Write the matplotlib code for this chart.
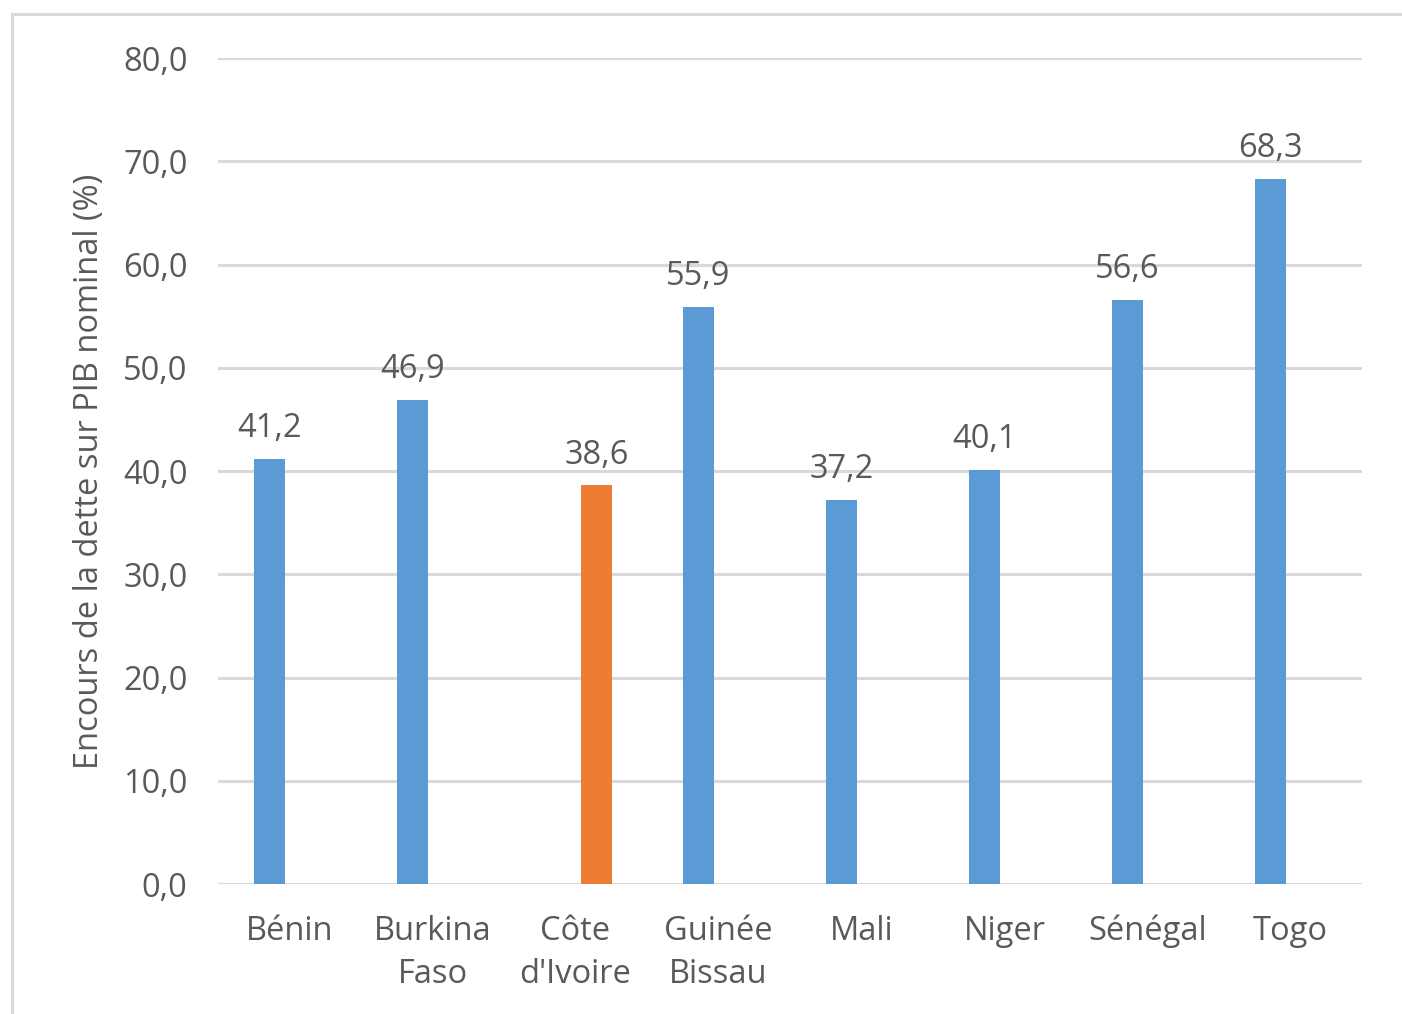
import numpy as np
import matplotlib.pyplot as plt
from matplotlib.patches import Rectangle

# Encours de la dette / PIB nominal, pays de l'UEMOA
pays = ['Bénin', 'Burkina\nFaso', 'Côte\nd\'Ivoire', 'Guinée\nBissau',
        'Mali', 'Niger', 'Sénégal', 'Togo']
dette_pib = [41.2, 46.9, 38.6, 55.9, 37.2, 40.1, 56.6, 68.3]
pays_mis_en_avant = 'Côte\nd\'Ivoire'
yticks = [0, 10, 20, 30, 40, 50, 60, 70, 80]

bleu = '#5b9bd5'
orange = '#ed7d31'
gris_texte = '#595959'
gris_grille = '#d9d9d9'
taille = 23.5

plt.rcParams['font.family'] = ['Open Sans', 'DejaVu Sans']

fig = plt.figure(figsize=(14.02, 10.14), dpi=100)
ax = fig.add_axes([0.1555, 0.1282, 0.816, 0.8146])

x = np.arange(len(pays))
vals = np.array(dette_pib)
autre = np.array([p == pays_mis_en_avant for p in pays])

# deux séries "groupées" comme dans Excel : bleu à gauche, orange à droite
serie1 = np.where(autre, np.nan, vals)
serie2 = np.where(autre, vals, np.nan)
largeur = 0.215
ax.bar(x - 0.14, serie1, largeur, color=bleu, zorder=3)
ax.bar(x + 0.147, serie2, largeur, color=orange, zorder=3)

for xi, v, a in zip(x, vals, autre):
    xpos = xi + 0.147 if a else xi - 0.14
    ax.annotate(f'{v:.1f}'.replace('.', ','), (xpos, v), xytext=(0, 10),
                textcoords='offset points', ha='center', va='bottom',
                fontsize=taille, color=gris_texte)

ax.set_xlim(-0.5, len(pays) - 0.5)
ax.set_ylim(0, 80)
ax.set_yticks(yticks)
ax.set_yticklabels([f'{t:.1f}'.replace('.', ',') for t in yticks])
ax.set_xticks(x)
ax.set_xticklabels(pays, linespacing=1.4)
ax.tick_params(axis='both', length=0, labelsize=taille, labelcolor=gris_texte)
ax.tick_params(axis='y', pad=22)
ax.tick_params(axis='x', pad=22)

ax.grid(axis='y', color=gris_grille, linewidth=2.2, zorder=0)
for s in ax.spines.values():
    s.set_visible(False)

ax.set_ylabel('Encours de la dette sur PIB nominal (%)', fontsize=taille,
              color=gris_texte)
ax.yaxis.set_label_coords(-0.098, 0.5)

# cadre du graphique
fig.patches.append(Rectangle((12 / 1402, -0.02), 1.1, 1 - 14 / 1014 + 0.02,
                             transform=fig.transFigure, fill=False,
                             edgecolor=gris_grille, linewidth=2.2))

fig.savefig('out.png', dpi=100)
